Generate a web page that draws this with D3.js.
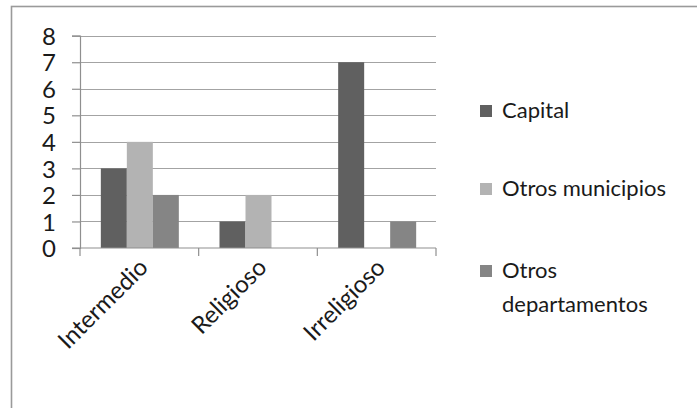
<!DOCTYPE html>
<html>
<head>
<meta charset="utf-8">
<script src="https://cdn.jsdelivr.net/npm/d3@7"></script>
<style>
  html, body { margin: 0; padding: 0; background: #fff; }
  svg { display: block; }
  text { font-family: Lato, "Open Sans", sans-serif; fill: #1a1a1a; }
</style>
</head>
<body>
<svg id="chart" width="697" height="408"></svg>
<script>
const categories = ["Intermedio", "Religioso", "Irreligioso"];
const seriesNames = ["Capital", "Otros municipios", "Otros departamentos"];
const capital = [3, 1, 7];
const otrosMunicipios = [4, 2, 0];
const otrosDepartamentos = [2, 0, 1];
const yTicks = [0, 1, 2, 3, 4, 5, 6, 7, 8];
const colors = ["#606060", "#b3b3b3", "#858585"];

const seriesValues = [capital, otrosMunicipios, otrosDepartamentos];
const rows = categories.map((c, i) => ({
  cat: c,
  vals: seriesNames.map((s, j) => ({ key: s, value: seriesValues[j][i], idx: j }))
}));

const svg = d3.select("#chart");
const W = 697, H = 408;
const FS = 24;

// outer frame
svg.append("rect")
  .attr("x", 11.5).attr("y", 6.5)
  .attr("width", W + 10).attr("height", H + 10)
  .attr("fill", "none").attr("stroke", "#9a9a9a").attr("stroke-width", 1.6);

const plot = { left: 80, right: 436, top: 35.7, bottom: 248 };

const x0 = d3.scaleBand().domain(categories).range([plot.left, plot.right]).paddingInner(0).paddingOuter(0);
const bw = x0.bandwidth();
const barW = 26;
const x1 = d3.scaleBand().domain(seriesNames)
  .range([(bw - 3 * barW) / 2 + 0.5, (bw + 3 * barW) / 2 + 0.5]).padding(0);
const y = d3.scaleLinear().domain([0, 8]).range([plot.bottom, plot.top]);

// gridlines
svg.append("g").selectAll("line").data(yTicks.filter(d => d > 0)).join("line")
  .attr("x1", plot.left).attr("x2", plot.right)
  .attr("y1", d => Math.round(y(d)) + 0.5).attr("y2", d => Math.round(y(d)) + 0.5)
  .attr("stroke", "#a3a3a3").attr("stroke-width", 1.2);

// bars
const groups = svg.append("g").selectAll("g").data(rows).join("g")
  .attr("transform", d => `translate(${x0(d.cat)},0)`);
groups.selectAll("rect").data(d => d.vals.filter(v => v.value > 0)).join("rect")
  .attr("x", d => x1(d.key))
  .attr("width", x1.bandwidth())
  .attr("y", d => y(d.value))
  .attr("height", d => y(0) - y(d.value))
  .attr("fill", d => colors[d.idx]);

// y axis
const yAxis = d3.axisLeft(y).tickValues(yTicks).tickSize(8).tickPadding(18).tickFormat(d3.format("d"));
const gy = svg.append("g").attr("transform", `translate(${plot.left},0)`).call(yAxis);
gy.select(".domain").attr("stroke", "#8f8f8f").attr("stroke-width", 1.2);
gy.selectAll(".tick line").attr("stroke", "#8f8f8f").attr("stroke-width", 1.2);
gy.selectAll(".tick text").style("font-size", FS + "px").style("font-family", "Lato, sans-serif")
  .attr("fill", "#1a1a1a").attr("text-anchor", "end").attr("x", -24).attr("dy", "0.36em");

// x axis
const boundaries = categories.map(c => x0(c)).concat([plot.right]);
const gx = svg.append("g");
gx.append("line").attr("x1", plot.left - 8).attr("x2", plot.right)
  .attr("y1", y(0)).attr("y2", y(0)).attr("stroke", "#8f8f8f").attr("stroke-width", 1.2);
gx.selectAll("line.tk").data(boundaries).join("line").attr("class", "tk")
  .attr("x1", d => d).attr("x2", d => d).attr("y1", y(0)).attr("y2", y(0) + 8)
  .attr("stroke", "#8f8f8f").attr("stroke-width", 1.2);
gx.selectAll("text").data(categories).join("text")
  .attr("transform", d => `translate(${x0(d) + bw / 2 + 10},${y(0) + 21}) rotate(-45)`)
  .attr("text-anchor", "end")
  .style("font-size", FS + "px")
  .text(d => d);

// legend
const legend = svg.append("g");
const legendItems = [
  { lines: ["Capital"], y: 118 },
  { lines: ["Otros municipios"], y: 196 },
  { lines: ["Otros", "departamentos"], y: 278 }
];
legendItems.forEach((it, i) => {
  legend.append("rect").attr("x", 480).attr("y", it.y - 13).attr("width", 12).attr("height", 12)
    .attr("fill", colors[i]);
  it.lines.forEach((ln, k) => {
    legend.append("text").attr("x", 502).attr("y", it.y + k * 34)
      .style("font-size", (FS - 2) + "px").text(ln);
  });
});
</script>
</body>
</html>
